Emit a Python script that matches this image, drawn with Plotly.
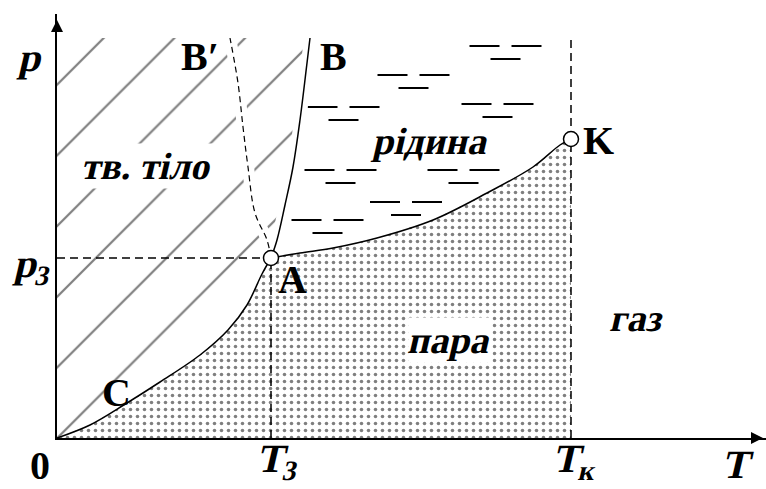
import json
import plotly.graph_objects as go

# Phase diagram (arbitrary units: T to the right, p upward)
T_MAX, P_MAX = 709, 424                # axis extents
T_TRIPLE, P_TRIPLE = 214, 180          # point A
T_CRIT, P_CRIT = 514, 299              # point K
P_TOP = 400

# sublimation curve 0 -> A
sub_T = [0, 33, 70, 103, 143, 171, 190, 205, 214]
sub_p = [0, 13, 35, 56, 83, 108, 133, 164, 180]

# vaporization curve A -> K
vap_T = [214, 243, 276, 320, 376, 430, 476, 503, 514]
vap_p = [180, 185, 190, 200, 218, 245, 271, 293, 299]

# melting curve A -> B
melt_T = [214, 220, 228, 236, 243, 250, 253]
melt_p = [180, 198, 233, 271, 318, 375, 400]

# anomalous melting curve A -> B'
anom_T = [214, 210, 198, 191, 186, 181, 173]
anom_p = [180, 198, 225, 271, 311, 355, 400]

# liquid texture: anchor (upper-left dash) of each three-dash group
liq_T = [427.5, 335.5, 265.5, 419.5, 262.5, 385.5, 328, 249.5]
liq_p = [392, 363, 331, 334, 268, 268, 236, 218]

BLACK = "black"
SERIF = "Liberation Serif"

fig = go.Figure()

# solid region (hatched)
solid_T = [0] + sub_T + melt_T[1:] + [0, 0]
solid_p = [0] + sub_p + melt_p[1:] + [P_TOP, 0]
fig.add_trace(go.Scatter(
    x=solid_T, y=solid_p, mode="none", fill="toself",
    fillcolor="white",
    fillpattern=dict(shape="/", size=50, solidity=0.045,
                     fgcolor=BLACK, bgcolor="white"),
    hoverinfo="skip"))

# vapour region (stippled)
vap_region_T = sub_T + vap_T[1:] + [T_CRIT, 0]
vap_region_p = sub_p + vap_p[1:] + [0, 0]
fig.add_trace(go.Scatter(
    x=vap_region_T, y=vap_region_p, mode="none", fill="toself",
    fillcolor="white",
    fillpattern=dict(shape=".", size=7, solidity=0.2,
                     fgcolor=BLACK, bgcolor="white"),
    hoverinfo="skip"))

# liquid region dashes
dash_half = 15
dx, dy = [], []
for gT, gp in zip(liq_T, liq_p):
    for cT, cp in ((gT, gp), (gT + 42, gp), (gT + 21, gp - 13)):
        dx += [cT - dash_half, cT + dash_half, None]
        dy += [cp, cp, None]
fig.add_trace(go.Scatter(x=dx, y=dy, mode="lines",
                         line=dict(color=BLACK, width=2), hoverinfo="skip"))

# white clearance under the melting curves
for xs, ys in ((melt_T, melt_p), (anom_T, anom_p)):
    fig.add_trace(go.Scatter(x=xs, y=ys, mode="lines",
                             line=dict(color="white", width=12, shape="spline"),
                             hoverinfo="skip"))

# guide lines
guide = dict(color=BLACK, width=1.5, dash="8px,5px")
fig.add_trace(go.Scatter(x=[0, T_TRIPLE], y=[P_TRIPLE, P_TRIPLE], mode="lines",
                         line=guide, hoverinfo="skip"))
fig.add_trace(go.Scatter(x=[T_TRIPLE, T_TRIPLE], y=[0, P_TRIPLE], mode="lines",
                         line=guide, hoverinfo="skip"))
fig.add_trace(go.Scatter(x=[T_CRIT, T_CRIT], y=[0, P_TOP], mode="lines",
                         line=guide, hoverinfo="skip"))

# phase boundaries
for xs, ys in ((sub_T, sub_p), (vap_T, vap_p), (melt_T, melt_p)):
    fig.add_trace(go.Scatter(x=xs, y=ys, mode="lines",
                             line=dict(color=BLACK, width=1.5, shape="spline"),
                             hoverinfo="skip"))
fig.add_trace(go.Scatter(x=anom_T, y=anom_p, mode="lines",
                         line=dict(color=BLACK, width=1.2, shape="spline",
                                   dash="6px,4px"),
                         hoverinfo="skip"))

# triple and critical points
fig.add_trace(go.Scatter(x=[T_TRIPLE, T_CRIT], y=[P_TRIPLE, P_CRIT], mode="markers",
                         marker=dict(size=15, color="white",
                                     line=dict(color=BLACK, width=1.5)),
                         hoverinfo="skip"))

# axis arrowheads
fig.add_trace(go.Scatter(x=[0], y=[P_MAX - 6], mode="markers", cliponaxis=False,
                         marker=dict(symbol="arrow-up", size=12, color=BLACK),
                         hoverinfo="skip"))
fig.add_trace(go.Scatter(x=[T_MAX - 3], y=[0], mode="markers", cliponaxis=False,
                         marker=dict(symbol="arrow-right", size=12, color=BLACK),
                         hoverinfo="skip"))

slanted = []


def label(text, x, y, size=40, italic=False, bg=None):
    # paper coordinates so labels beside the axes are not clipped
    fig.add_annotation(
        x=x / T_MAX, y=y / P_MAX, xref="paper", yref="paper",
        text=text, showarrow=False,
        xanchor="center", yanchor="middle",
        bgcolor=bg,
        font=dict(family=SERIF, size=size, color=BLACK, weight="bold"))
    if italic:
        slanted.append(text.replace("<sub>", "").replace("</sub>", ""))


label("p", -25, 380, italic=True)
label("p<sub>3</sub>", -23, 172, italic=True)
label("0", -17, -27)
label("T<sub>3</sub>", 222, -23, italic=True)
label("T<sub>к</sub>", 520, -23, italic=True)
label("T", 681, -26, italic=True)
label("B′", 143, 382)
label("B", 276, 382)
label("K", 541, 298)
label("A", 235, 159)
label("C", 59, 46)
label("тв. тіло", 91, 272, size=38, italic=True, bg="white")
label("рідина", 375, 297, size=38, italic=True, bg="white")
label("пара", 393, 98, size=38, italic=True, bg="white")
label("газ", 581, 120, size=38, italic=True)

axis_common = dict(showgrid=False, zeroline=False, showticklabels=False,
                   ticks="", showline=True, linecolor=BLACK, linewidth=2,
                   fixedrange=True)
fig.update_xaxes(range=[0, T_MAX], **axis_common)
fig.update_yaxes(range=[0, P_MAX], **axis_common)
fig.update_layout(
    width=766, height=489,
    margin=dict(l=57, r=0, t=14, b=51),
    paper_bgcolor="white", plot_bgcolor="white",
    showlegend=False,
)

# The bold serif face has no italic here, so slant those labels with a skew
# (zero-width spaces that plotly adds after subscripts are ignored).
SLANT_JS = """
var gd = document.getElementById('{plot_id}');
var slanted = %s;
function slantLabels() {
  gd.querySelectorAll('text.annotation-text').forEach(function (t) {
    var s = t.textContent.replace(/[\\u200b\\u200c\\u200d\\ufeff]/g, '').trim();
    if (slanted.indexOf(s) >= 0) {
      var b = t.getBBox();
      var cy = b.y + b.height / 2;
      var k = Math.tan(13 * Math.PI / 180);
      t.setAttribute('transform',
        'matrix(1 0 ' + (-k) + ' 1 ' + (k * cy) + ' 0)');
    }
  });
}
slantLabels();
if (gd.on) { gd.on('plotly_afterplot', slantLabels); }
""" % json.dumps(slanted, ensure_ascii=False)

fig.write_html("out.html", post_script=SLANT_JS)
